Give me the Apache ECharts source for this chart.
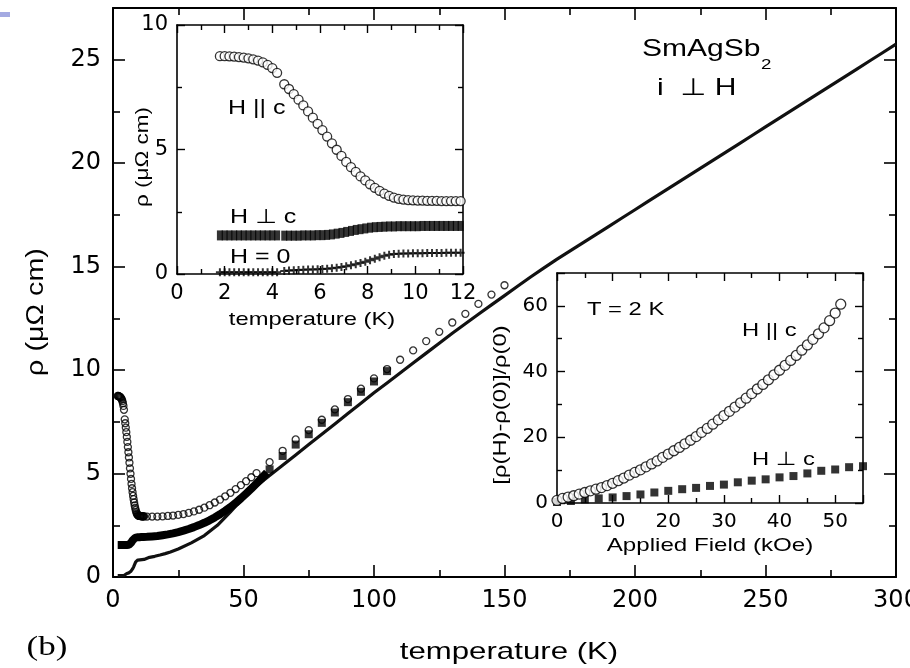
<!DOCTYPE html>
<html><head><meta charset="utf-8">
<script src="https://cdn.jsdelivr.net/npm/echarts@6/dist/echarts.min.js"></script>
<style>html,body{margin:0;padding:0;background:#fff}#c{width:910px;height:668px}</style>
</head><body><div id="c"></div>
<script>
// ---------- DATA ----------
// low-temperature sweep (K), shared by inset (a) and main panel
const tLow = [1.8,2.0,2.2,2.4,2.6,2.8,3.0,3.2,3.4,3.6,3.8,4.0,4.2,
  4.5,4.7,4.9,5.1,5.3,5.5,5.7,5.9,6.1,6.3,6.5,6.7,6.9,7.1,7.3,7.5,7.7,7.9,8.1,8.3,8.5,8.7,8.9,
  9.1,9.3,9.5,9.7,9.9,10.1,10.3,10.5,10.7,10.9,11.1,11.3,11.5,11.7,11.9];
const rhoParLow = [8.75,8.75,8.74,8.73,8.71,8.69,8.66,8.62,8.57,8.5,8.4,8.27,8.08,
  7.62,7.43,7.22,7.0,6.77,6.53,6.28,6.03,5.78,5.52,5.25,4.99,4.74,4.5,4.29,4.1,3.92,3.76,3.6,3.46,3.34,3.23,3.14,
  3.07,3.02,2.99,2.97,2.96,2.95,2.95,2.94,2.94,2.94,2.93,2.93,2.93,2.93,2.93];
const rhoPerpLow = [1.55,1.55,1.55,1.55,1.55,1.55,1.55,1.55,1.55,1.55,1.55,1.55,1.55,
  1.54,1.54,1.54,1.54,1.55,1.55,1.55,1.56,1.56,1.57,1.59,1.62,1.65,1.69,1.73,1.77,1.8,1.83,1.86,1.88,1.89,1.9,1.91,
  1.91,1.92,1.92,1.92,1.92,1.92,1.93,1.93,1.93,1.93,1.93,1.93,1.93,1.93,1.93];
const rhoZeroLow = [0.07,0.07,0.07,0.07,0.07,0.07,0.07,0.07,0.07,0.07,0.07,0.07,0.07,
  0.12,0.14,0.15,0.16,0.17,0.18,0.18,0.19,0.2,0.21,0.23,0.25,0.28,0.31,0.35,0.39,0.44,0.49,0.55,0.61,0.67,0.73,0.77,
  0.8,0.81,0.82,0.82,0.83,0.83,0.83,0.84,0.84,0.84,0.84,0.85,0.85,0.85,0.85];

// main panel, higher temperatures
const tParHigh = [13,15,17,19,21,23,25,27,29,31,33,35,37,39,41,43,45,47,49,51,53,55,
  60,65,70,75,80,85,90,95,100,105,110,115,120,125,130,135,140,145,150];
const rhoParHigh = [2.92,2.92,2.92,2.93,2.95,2.97,3.0,3.04,3.1,3.17,3.25,3.35,3.47,3.6,3.74,3.9,4.07,4.25,4.44,4.63,4.82,5.02,
  5.55,6.1,6.65,7.1,7.6,8.1,8.6,9.1,9.6,10.05,10.5,10.95,11.4,11.85,12.3,12.72,13.2,13.65,14.1];
const tPerpBand = [13,15,17,19,21,23,25,27,29,31,33,35,37,39,41,43,45,47,49,51,53,55,57,59];
const rhoPerpBand = [1.94,1.96,1.98,2.02,2.06,2.11,2.17,2.24,2.32,2.41,2.51,2.62,2.74,2.88,3.03,3.2,3.38,3.58,3.8,4.03,4.27,4.52,4.78,5.05];
const tPerpSq = [60,65,70,75,80,85,90,95,100,105];
const rhoPerpSq = [5.2,5.85,6.4,6.9,7.45,7.95,8.45,8.95,9.45,9.95];
const tZeroHigh = [14,16,18,20,22,25,30,35,40,45,50,55,
  60,65,70,75,80,85,90,95,100,105,110,115,120,125,130,135,140,145,150,
  155,160,165,170,175,180,185,190,195,200,205,210,215,220,225,230,235,240,245,250,
  255,260,265,270,275,280,285,290,295,300];
const rhoZeroHigh = [0.95,1.0,1.06,1.13,1.21,1.35,1.65,2.0,2.5,3.15,3.85,4.4,
  4.9,5.4,5.9,6.4,6.9,7.4,7.9,8.4,8.9,9.38,9.86,10.34,10.82,11.3,11.78,12.24,12.7,13.15,13.6,
  14.05,14.5,14.93,15.35,15.75,16.15,16.55,16.95,17.35,17.75,18.15,18.55,18.95,19.35,19.75,20.15,20.55,20.95,21.35,21.75,
  22.15,22.55,22.95,23.35,23.75,24.15,24.55,24.95,25.35,25.75];

// inset (b): magnetoresistance at T = 2 K
const fieldPar = [0,1,2,3,4,5,6,7,8,9,10,11,12,13,14,15,16,17,18,19,20,21,22,23,24,25,26,27,28,29,30,
  31,32,33,34,35,36,37,38,39,40,41,42,43,44,45,46,47,48,49,50,51];
const mrPar = [0.8,1.4,1.8,2.2,2.7,3.2,3.7,4.2,4.7,5.3,6.0,6.8,7.6,8.5,9.3,10.1,11.0,11.9,12.8,13.9,14.9,15.9,16.9,18.0,19.1,20.2,21.5,22.7,24.0,25.3,26.6,
  27.9,29.2,30.5,31.9,33.3,34.7,36.1,37.5,39.0,40.4,41.9,43.4,44.9,46.5,48.1,49.8,51.5,53.3,55.5,57.8,60.5];
const fieldPerp = [0,2.5,5,7.5,10,12.5,15,17.5,20,22.5,25,27.5,30,32.5,35,37.5,40,42.5,45,47.5,50,52.5,55];
const mrPerp = [0.3,0.6,1.1,1.4,1.7,2.1,2.6,3.2,3.7,4.2,4.6,5.2,5.6,6.3,6.8,7.2,7.8,8.2,9.0,9.8,10.2,10.9,11.2];

// ---------- CHART ----------
const zip = (xs, ys) => xs.map((x, i) => [x, ys[i]]);
const SANS = "'Liberation Sans','DejaVu Sans',Arial,sans-serif";

function axis(dim, grid, min, max, interval, position, showLabel, s) {
  return {
    type: 'value', gridIndex: grid, min: min, max: max, interval: interval, position: position,
    axisLine: { show: true, onZero: false, lineStyle: { color: '#000', width: s.lineW } },
    axisTick: { show: true, inside: true, length: s.tickLen, lineStyle: { color: '#000', width: s.tickW } },
    minorTick: { show: true, splitNumber: 2, length: s.minorLen, lineStyle: { color: '#000', width: s.tickW } },
    splitLine: { show: false }, minorSplitLine: { show: false },
    axisLabel: {
      show: showLabel, margin: s.margin, fontSize: s.fontSize, fontFamily: 'DejaVu Sans', color: '#000',
      formatter: function (v) { const r = v / interval; return Math.abs(r - Math.round(r)) < 1e-6 ? String(v) : ''; }
    }
  };
}
const sMain = { lineW: 2, tickLen: 12, minorLen: 7, tickW: 1.6, margin: 12, fontSize: 24 };
const sIn1 = { lineW: 1.6, tickLen: 8, minorLen: 5, tickW: 1.4, margin: 9, fontSize: 21 };
const sIn2 = { lineW: 1.6, tickLen: 8, minorLen: 5, tickW: 1.4, margin: 9, fontSize: 20 };

const plusPath = 'path://M3,0H5V3H8V5H5V8H3V5H0V3H3Z';

function txt(text, x, y, size, opts) {
  opts = opts || {};
  return {
    type: 'text', x: x, y: y, rotation: opts.rot || 0, scaleX: opts.sx || 1.25, scaleY: 1, z: 100,
    style: {
      text: text, fill: '#000', font: size + 'px ' + (opts.family || SANS),
      textAlign: opts.align || 'center', textVerticalAlign: 'middle'
    }
  };
}

const option = {
  animation: false,
  backgroundColor: '#fff',
  grid: [
    { left: 113, top: 8, width: 783, height: 569, containLabel: false, outerBoundsMode: 'none' },
    { left: 177, top: 25, width: 286, height: 249, containLabel: false, outerBoundsMode: 'none' },
    { left: 557, top: 273, width: 306, height: 230, containLabel: false, outerBoundsMode: 'none' }
  ],
  xAxis: [
    axis('x', 0, 0, 300, 50, 'bottom', true, sMain),
    axis('x', 0, 0, 300, 50, 'top', false, sMain),
    axis('x', 1, 0, 12, 2, 'bottom', true, sIn1),
    axis('x', 1, 0, 12, 2, 'top', false, sIn1),
    axis('x', 2, 0, 55, 10, 'bottom', true, sIn2),
    axis('x', 2, 0, 55, 10, 'top', false, sIn2)
  ],
  yAxis: [
    axis('y', 0, 0, 27.5, 5, 'left', true, sMain),
    axis('y', 0, 0, 27.5, 5, 'right', false, sMain),
    axis('y', 1, 0, 10, 5, 'left', true, sIn1),
    axis('y', 1, 0, 10, 5, 'right', false, sIn1),
    axis('y', 2, 0, 70, 20, 'left', true, sIn2),
    axis('y', 2, 0, 70, 20, 'right', false, sIn2)
  ],
  series: [
    // main panel
    { name: 'H=0 main', type: 'line', xAxisIndex: 0, yAxisIndex: 0, z: 3, symbol: 'none',
      data: zip(tLow, rhoZeroLow).concat(zip(tZeroHigh, rhoZeroHigh)),
      lineStyle: { color: '#111', width: 3.2 } },
    { name: 'Hperp main band', type: 'line', xAxisIndex: 0, yAxisIndex: 0, z: 4, symbol: 'none',
      data: zip(tLow, rhoPerpLow).concat(zip(tPerpBand, rhoPerpBand)),
      lineStyle: { color: '#000', width: 8 } },
    { name: 'Hpar main', type: 'scatter', xAxisIndex: 0, yAxisIndex: 0, z: 5, symbol: 'circle', symbolSize: 7,
      data: zip(tLow, rhoParLow).concat(zip(tParHigh, rhoParHigh)),
      itemStyle: { color: 'rgba(255,255,255,0)', borderColor: '#000', borderWidth: 1.3 } },
    { name: 'Hperp main sq', type: 'scatter', xAxisIndex: 0, yAxisIndex: 0, z: 6, symbol: 'rect', symbolSize: 8,
      data: zip(tPerpSq, rhoPerpSq), itemStyle: { color: '#000' } },
    // inset (a)
    { name: 'Hpar in1', type: 'scatter', xAxisIndex: 2, yAxisIndex: 2, z: 5, symbol: 'circle', symbolSize: 9,
      data: zip(tLow, rhoParLow), itemStyle: { color: '#fff', borderColor: '#000', borderWidth: 1.3 } },
    { name: 'Hperp in1', type: 'scatter', xAxisIndex: 2, yAxisIndex: 2, z: 5, symbol: 'rect', symbolSize: [6, 10],
      data: zip(tLow, rhoPerpLow), itemStyle: { color: '#000' } },
    { name: 'H0 in1', type: 'scatter', xAxisIndex: 2, yAxisIndex: 2, z: 5, symbol: plusPath, symbolSize: 8,
      data: zip(tLow, rhoZeroLow), itemStyle: { color: '#000' } },
    // inset (b)
    { name: 'Hpar in2', type: 'scatter', xAxisIndex: 4, yAxisIndex: 4, z: 5, symbol: 'circle', symbolSize: 10,
      data: zip(fieldPar, mrPar), itemStyle: { color: '#fff', borderColor: '#000', borderWidth: 1.3 } },
    { name: 'Hperp in2', type: 'scatter', xAxisIndex: 4, yAxisIndex: 4, z: 4, symbol: 'rect', symbolSize: 8,
      data: zip(fieldPerp, mrPerp), itemStyle: { color: '#000' } }
  ],
  graphic: [
    { type: 'rect', shape: { x: 0, y: 12, width: 10, height: 5 }, style: { fill: '#a4aae2' }, z: 100 },
    txt('temperature (K)', 509, 652, 24, { sx: 1.3 }),
    txt('\u03c1 (\u03bc\u03a9 cm)', 37, 312, 23, { rot: Math.PI / 2 }),
    txt('(b)', 47, 648, 28, { family: "'Liberation Serif','DejaVu Serif',serif" }),
    { type: 'text', x: 642, y: 49, scaleX: 1.25, z: 100,
      style: { text: 'SmAgSb', fill: '#000', font: '24px ' + SANS, textAlign: 'left', textVerticalAlign: 'middle' } },
    { type: 'text', x: 761, y: 65, scaleX: 1.25, z: 100,
      style: { text: '2', fill: '#000', font: '15px ' + SANS, textAlign: 'left', textVerticalAlign: 'middle' } },
    txt('i  \u22a5 H', 657, 88, 24, { align: 'left' }),
    // inset (a)
    txt('temperature (K)', 312, 320, 19),
    txt('\u03c1 (\u03bc\u03a9 cm)', 143, 157, 18, { rot: Math.PI / 2 }),
    txt('H || c', 228, 108, 20, { align: 'left' }),
    txt('H \u22a5 c', 230, 217, 20, { align: 'left' }),
    txt('H = 0', 230, 257, 20, { align: 'left' }),
    // inset (b)
    txt('Applied Field (kOe)', 710, 546, 19, { sx: 1.27 }),
    txt('[\u03c1(H)-\u03c1(0)]/\u03c1(0)', 501, 405, 19, { rot: Math.PI / 2 }),
    txt('T = 2 K', 587, 310, 19, { align: 'left' }),
    txt('H || c', 742, 331, 19, { align: 'left' }),
    txt('H \u22a5 c', 752, 460, 19, { align: 'left' })
  ]
};
const chart = echarts.init(document.getElementById('c'), null, { renderer: 'canvas' });
chart.setOption(option);
</script>
</body></html>
